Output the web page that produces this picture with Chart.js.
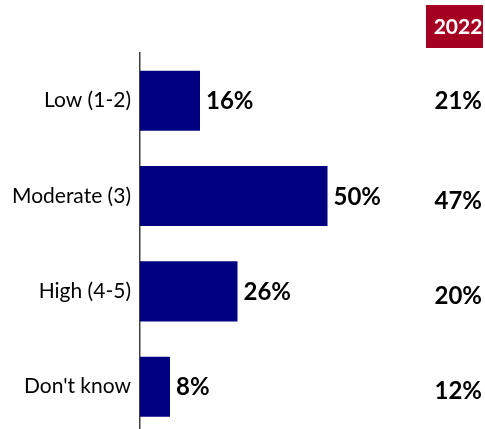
<!DOCTYPE html>
<html>
<head>
<meta charset="utf-8">
<script src="https://cdn.jsdelivr.net/npm/chart.js@4.4.1/dist/chart.umd.min.js"></script>
<style>
  html, body { margin: 0; padding: 0; background: #fff; overflow: hidden; }
  canvas { display: block; }
</style>
</head>
<body>
<canvas id="chart" width="485" height="456"></canvas>
<script>
// Categories and values
const CATEGORIES = ["Low (1-2)", "Moderate (3)", "High (4-5)", "Don't know"];
const VALUES_2023 = [16, 50, 26, 8];
const COMPARE_YEAR = "2022";
const VALUES_2022 = [21, 47, 20, 12];

const FONT = "Lato, 'Open Sans', sans-serif";

// value labels at end of each bar
const barLabels = {
  id: "barLabels",
  afterDatasetsDraw(chart) {
    const ctx = chart.ctx;
    const meta = chart.getDatasetMeta(0);
    ctx.save();
    ctx.font = "bold 24px " + FONT;
    ctx.fillStyle = "#000";
    ctx.textAlign = "left";
    ctx.textBaseline = "middle";
    meta.data.forEach((bar, i) => {
      ctx.fillText(VALUES_2023[i] + "%", bar.x + 6, bar.y + 1);
    });
    ctx.restore();
  }
};

// the 2022 comparison column on the right
const compareColumn = {
  id: "compareColumn",
  afterDraw(chart) {
    const ctx = chart.ctx;
    const y = chart.scales.y;
    ctx.save();
    ctx.fillStyle = "#a50021";
    ctx.fillRect(426, 5, 57, 43);
    ctx.fillStyle = "#fff";
    ctx.font = "bold 21px " + FONT;
    ctx.textAlign = "center";
    ctx.textBaseline = "middle";
    ctx.fillText(COMPARE_YEAR, 458, 27);
    ctx.fillStyle = "#000";
    ctx.font = "bold 24px " + FONT;
    ctx.textAlign = "right";
    VALUES_2022.forEach((v, i) => {
      ctx.fillText(v + "%", 482, y.getPixelForValue(i) + (i ? 5 : 1));
    });
    ctx.restore();
  }
};

new Chart(document.getElementById("chart"), {
  type: "bar",
  data: {
    labels: CATEGORIES,
    datasets: [{
      data: VALUES_2023,
      backgroundColor: "#000080",
      categoryPercentage: 0.63,
      barPercentage: 1
    }]
  },
  options: {
    indexAxis: "y",
    responsive: false,
    animation: false,
    layout: { padding: { top: 53, right: 120, bottom: 0, left: 0 } },
    plugins: {
      legend: { display: false },
      tooltip: { enabled: false }
    },
    scales: {
      x: {
        min: 0,
        max: 60,
        display: false
      },
      y: {
        afterFit(scale) { scale.width = 140; },
        grid: { display: false, drawTicks: false },
        border: { display: true, color: "#404040", width: 1.5 },
        ticks: {
          color: "#000",
          padding: 9,
          font: { family: FONT, size: 21 }
        }
      }
    }
  },
  plugins: [barLabels, compareColumn]
});
</script>
</body>
</html>
